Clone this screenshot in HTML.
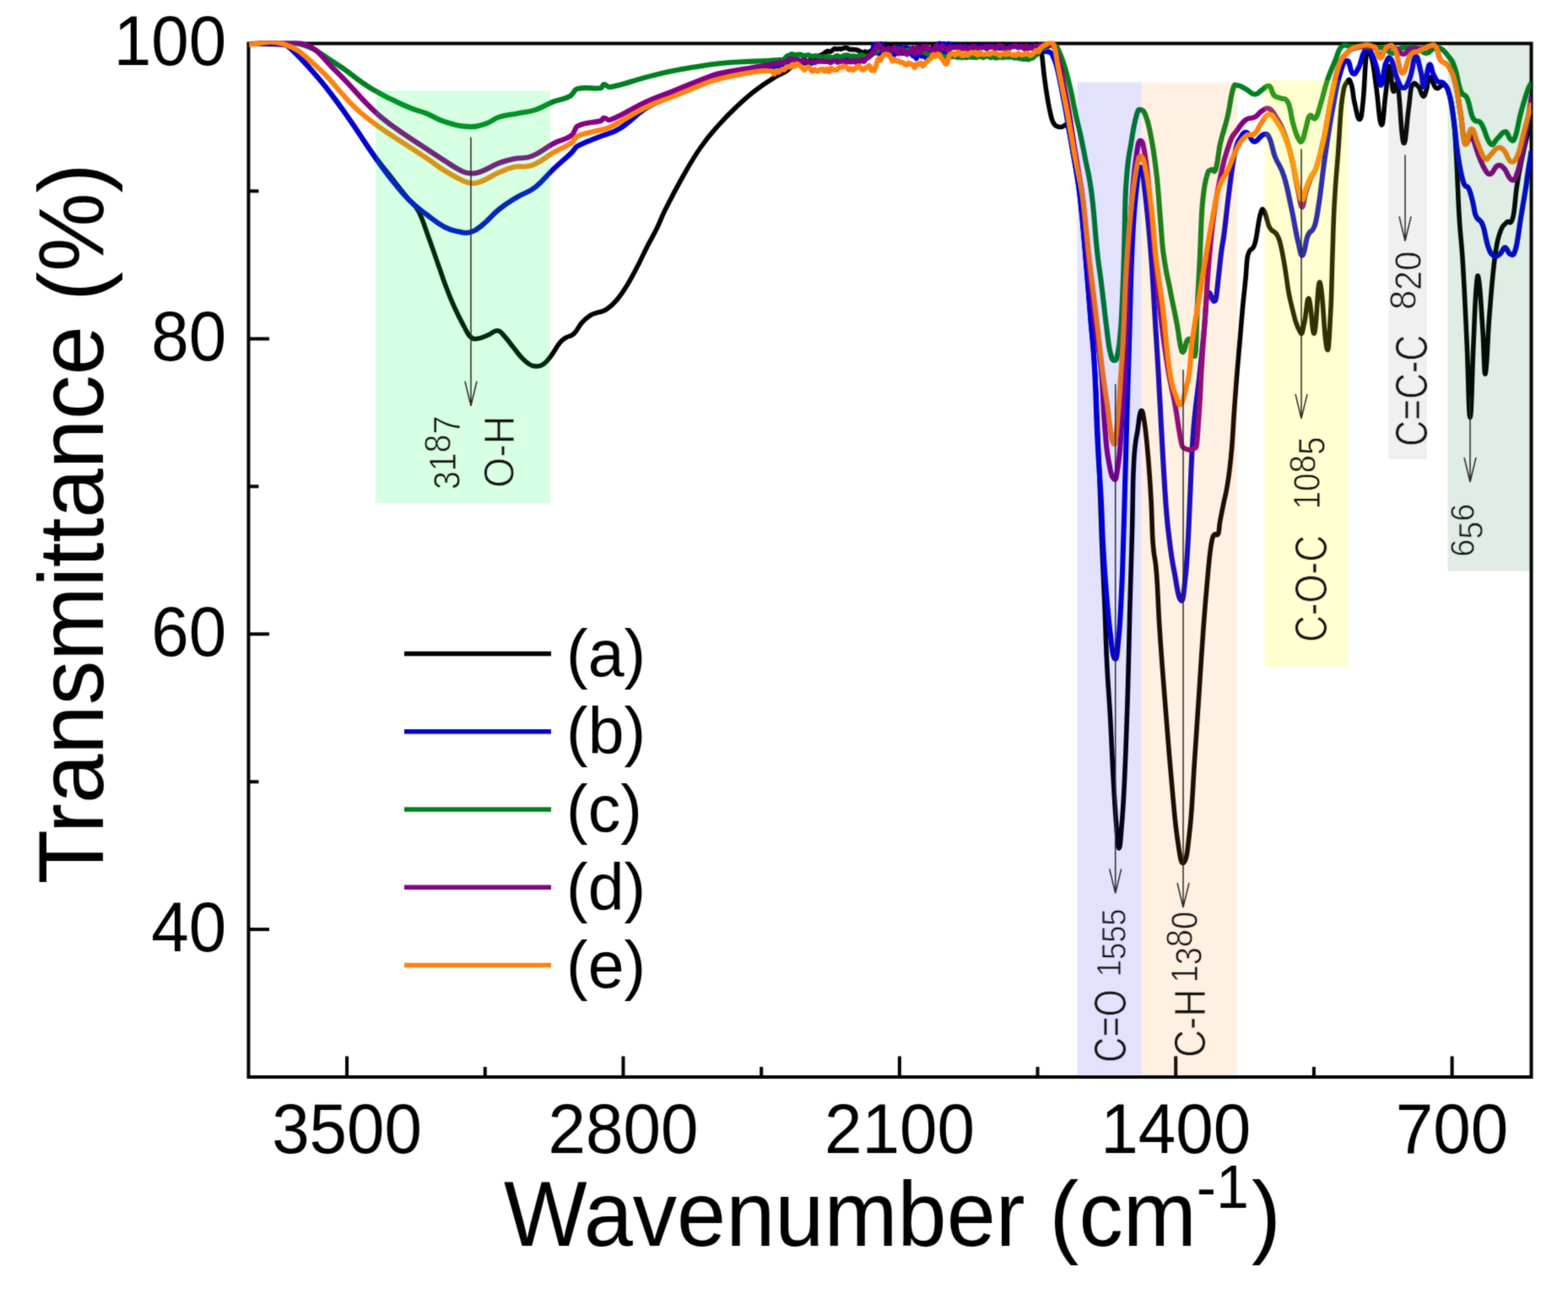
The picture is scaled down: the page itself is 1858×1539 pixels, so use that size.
<!DOCTYPE html>
<html lang="en"><head><meta charset="utf-8"><title>FTIR spectra</title>
<style>html,body{margin:0;padding:0;background:#fff}body{width:1858px;height:1539px;overflow:hidden}svg{display:block}</style>
</head><body>
<svg width="1858" height="1539" viewBox="0 0 1858 1539" font-family="'Liberation Sans', sans-serif">
<defs><filter id="soft" x="0" y="0" width="1858" height="1539" filterUnits="userSpaceOnUse" color-interpolation-filters="sRGB"><feConvolveMatrix order="3" kernelMatrix="1 4 1 4 16 4 1 4 1"/></filter><clipPath id="clip"><rect x="292.5" y="48.5" width="1522" height="1227.5"/></clipPath></defs>
<g filter="url(#soft)">
<rect width="1858" height="1539" fill="#ffffff"/>
<g stroke="#000" stroke-width="4" fill="none" stroke-linecap="butt">
<rect x="294.5" y="51.5" width="1520" height="1224.5"/>
<line x1="411.1" y1="1276" x2="411.1" y2="1251.4"/>
<line x1="738.5" y1="1276" x2="738.5" y2="1251.4"/>
<line x1="1065.9" y1="1276" x2="1065.9" y2="1251.4"/>
<line x1="1393.2" y1="1276" x2="1393.2" y2="1251.4"/>
<line x1="1720.6" y1="1276" x2="1720.6" y2="1251.4"/>
<line x1="574.8" y1="1276" x2="574.8" y2="1264"/>
<line x1="902.2" y1="1276" x2="902.2" y2="1264"/>
<line x1="1229.5" y1="1276" x2="1229.5" y2="1264"/>
<line x1="1556.9" y1="1276" x2="1556.9" y2="1264"/>
<line x1="294.5" y1="401.4" x2="319" y2="401.4"/>
<line x1="294.5" y1="751.2" x2="319" y2="751.2"/>
<line x1="294.5" y1="1101.1" x2="319" y2="1101.1"/>
<line x1="294.5" y1="226.4" x2="306.5" y2="226.4"/>
<line x1="294.5" y1="576.3" x2="306.5" y2="576.3"/>
<line x1="294.5" y1="926.2" x2="306.5" y2="926.2"/>
</g>
<g clip-path="url(#clip)" fill="none" stroke-width="6.1" stroke-linejoin="round" stroke-linecap="butt">
<path d="M295.0,52.0 C308.3,52.0 318.3,50.3 335.0,52.0 C339.5,52.5 340.5,52.7 345.0,57.0 C358.7,70.0 362.1,74.8 376.0,91.0 C385.9,102.5 388.1,105.3 398.0,118.5 C407.4,131.1 409.6,134.8 419.0,148.5 C428.9,162.9 431.1,167.3 441.0,181.0 C450.4,194.1 452.6,195.9 462.0,208.0 C471.9,220.7 474.1,223.7 484.0,236.0 C489.3,242.6 490.5,240.0 495.8,250.0 C501.2,260.2 502.4,266.4 507.8,281.0 C513.2,295.6 514.4,299.7 519.8,315.0 C523.8,326.2 524.6,329.6 528.6,340.0 C532.8,351.2 533.8,353.7 538.0,363.0 C543.4,374.9 544.6,377.0 550.0,387.0 C553.3,393.2 554.1,396.3 557.4,399.0 C561.7,402.6 562.7,401.5 567.0,401.0 C572.4,400.4 573.6,398.8 579.0,396.6 C583.9,394.6 585.0,391.2 589.9,391.8 C593.7,392.3 594.5,395.0 598.3,399.0 C602.6,403.6 603.6,405.6 607.9,411.0 C612.2,416.4 613.2,418.4 617.5,423.0 C621.8,427.6 622.7,428.7 627.0,431.5 C630.3,433.6 631.0,433.9 634.3,433.9 C638.6,433.9 639.6,434.5 643.9,431.5 C648.3,428.5 649.2,426.4 653.6,420.7 C657.9,415.1 658.9,411.6 663.2,406.3 C666.4,402.3 667.2,402.3 670.4,400.2 C674.7,397.4 675.7,399.4 680.0,395.4 C684.3,391.3 685.3,387.1 689.6,382.2 C693.9,377.3 694.9,376.5 699.2,373.8 C703.5,371.1 704.5,371.8 708.8,370.2 C713.2,368.6 714.1,369.5 718.5,366.6 C723.9,363.0 725.1,362.0 730.5,355.8 C735.9,349.6 737.1,347.6 742.5,338.9 C747.9,330.2 749.1,327.6 754.5,317.3 C759.9,307.0 761.1,303.6 766.5,293.0 C771.9,282.3 773.2,281.1 778.6,270.0 C782.8,261.3 783.8,257.4 788.0,249.0 C797.5,230.0 799.7,225.8 809.2,209.0 C818.9,192.0 821.0,187.8 830.7,174.0 C840.4,160.2 842.5,158.4 852.2,147.5 C861.9,136.6 864.1,134.6 873.8,125.5 C883.5,116.4 885.6,114.4 895.3,107.0 C905.0,99.6 907.1,98.5 916.8,92.4 C923.6,88.1 925.2,88.2 932.0,84.0 C935.6,81.8 936.4,79.5 940.0,78.0 C946.8,75.1 949.1,75.5 955.0,74.2 C956.2,73.9 956.4,74.8 957.6,74.1 C958.8,73.4 959.0,72.1 960.2,71.0 C961.4,69.9 961.6,70.0 962.8,69.3 C964.0,68.6 964.2,68.1 965.4,67.7 C966.6,67.3 966.8,68.0 968.0,67.6 C969.2,67.2 969.4,66.6 970.6,66.0 C971.8,65.4 972.0,65.6 973.2,65.1 C974.4,64.6 974.6,64.7 975.8,63.9 C977.0,63.1 977.2,62.4 978.4,61.7 C979.6,61.0 979.8,60.7 981.0,60.6 C982.2,60.5 982.4,61.6 983.6,61.4 C984.8,61.2 985.0,60.6 986.2,59.7 C987.4,58.8 987.6,57.9 988.8,57.6 C990.0,57.3 990.2,58.3 991.4,58.3 C992.6,58.3 992.8,57.7 994.0,57.7 C995.2,57.7 995.4,58.2 996.6,58.1 C997.8,58.0 998.0,57.7 999.2,57.4 C1000.4,57.1 1000.6,56.6 1001.8,56.6 C1003.0,56.6 1003.2,56.8 1004.4,57.2 C1005.6,57.6 1005.8,58.2 1007.0,58.5 C1008.2,58.8 1008.4,58.6 1009.6,58.6 C1010.8,58.6 1011.0,58.6 1012.2,58.7 C1013.4,58.8 1013.6,58.7 1014.8,59.0 C1016.0,59.3 1016.2,59.6 1017.4,60.1 C1018.6,60.6 1018.8,60.7 1020.0,61.3 C1021.2,61.9 1021.4,62.9 1022.6,62.8 C1023.8,62.7 1024.0,61.0 1025.2,61.0 C1026.4,61.0 1026.6,62.7 1027.8,62.8 C1029.0,62.9 1029.2,62.0 1030.4,61.3 C1031.6,60.6 1031.8,60.3 1033.0,59.8 C1034.2,59.3 1034.6,59.7 1035.6,59.1 C1035.8,59.0 1035.8,57.8 1036.0,57.9 C1036.8,58.4 1037.2,59.9 1038.1,60.7 C1039.0,61.5 1039.3,62.7 1040.2,61.5 C1041.1,60.3 1041.4,56.1 1042.3,55.5 C1043.2,54.9 1043.5,59.1 1044.4,58.9 C1045.3,58.7 1045.6,56.1 1046.5,54.8 C1047.4,53.5 1047.7,53.5 1048.6,53.1 C1049.5,52.7 1049.8,51.3 1050.7,53.0 C1051.6,54.7 1051.9,60.4 1052.8,60.5 C1053.7,60.6 1054.0,54.1 1054.9,53.4 C1055.8,52.7 1056.1,55.7 1057.0,57.5 C1057.9,59.3 1058.2,61.9 1059.1,61.6 C1060.0,61.3 1060.3,56.6 1061.2,56.1 C1062.1,55.6 1062.4,58.1 1063.3,59.3 C1064.2,60.5 1064.5,62.2 1065.4,61.6 C1066.3,61.0 1066.6,57.6 1067.5,56.6 C1068.4,55.6 1068.7,56.0 1069.6,57.1 C1070.5,58.2 1070.8,60.9 1071.7,61.5 C1072.6,62.1 1072.9,60.7 1073.8,59.8 C1074.7,58.9 1075.0,56.9 1075.9,57.3 C1076.8,57.7 1077.1,60.9 1078.0,61.5 C1078.9,62.1 1079.2,59.9 1080.1,59.9 C1081.0,59.9 1081.3,61.9 1082.2,61.6 C1083.1,61.3 1083.4,58.4 1084.3,58.5 C1085.2,58.6 1085.5,63.0 1086.4,62.1 C1087.3,61.2 1087.6,55.4 1088.5,54.4 C1089.4,53.4 1089.7,58.0 1090.6,57.8 C1091.5,57.6 1091.8,54.1 1092.7,53.5 C1093.6,52.9 1093.9,54.7 1094.8,55.2 C1095.7,55.7 1096.0,54.5 1096.9,55.9 C1097.8,57.3 1098.1,60.7 1099.0,61.4 C1099.9,62.1 1100.2,59.4 1101.1,58.9 C1102.0,58.4 1102.3,59.7 1103.2,59.0 C1104.1,58.3 1104.4,55.3 1105.3,55.8 C1106.2,56.3 1106.5,61.2 1107.4,61.4 C1108.3,61.6 1108.6,58.2 1109.5,56.9 C1110.4,55.6 1110.7,56.7 1111.6,55.7 C1112.5,54.7 1112.8,52.4 1113.7,52.4 C1114.6,52.4 1114.9,54.1 1115.8,55.8 C1116.7,57.5 1117.0,60.2 1117.9,59.9 C1118.8,59.6 1119.1,54.3 1120.0,54.5 C1120.9,54.7 1121.2,59.6 1122.1,60.6 C1123.0,61.6 1123.3,60.2 1124.2,59.0 C1124.6,58.5 1124.6,57.4 1125.0,56.9 C1126.1,55.5 1126.4,55.4 1127.6,54.7 C1128.8,54.0 1129.0,54.1 1130.2,54.0 C1131.4,53.9 1131.6,54.5 1132.8,54.4 C1134.0,54.3 1134.2,53.7 1135.4,53.7 C1136.6,53.7 1136.8,53.7 1138.0,54.2 C1139.2,54.7 1139.4,55.8 1140.6,56.1 C1141.8,56.4 1142.0,56.4 1143.2,55.7 C1144.4,55.0 1144.6,53.4 1145.8,53.2 C1147.0,53.0 1147.2,54.5 1148.4,54.8 C1149.6,55.1 1149.8,54.9 1151.0,54.7 C1152.2,54.5 1152.4,54.0 1153.6,53.9 C1154.8,53.8 1155.0,54.7 1156.2,54.4 C1157.4,54.1 1157.6,52.4 1158.8,52.6 C1160.0,52.8 1160.2,54.5 1161.4,55.1 C1162.6,55.7 1162.8,55.7 1164.0,55.2 C1165.2,54.8 1165.4,53.6 1166.6,53.1 C1167.8,52.6 1168.0,52.7 1169.2,52.8 C1170.4,52.9 1170.6,52.8 1171.8,53.4 C1173.0,54.0 1173.2,55.2 1174.4,55.6 C1175.6,56.0 1175.8,55.7 1177.0,55.3 C1178.2,54.9 1178.4,54.1 1179.6,53.9 C1180.8,53.7 1181.0,54.8 1182.2,54.6 C1183.4,54.4 1183.6,53.5 1184.8,53.0 C1186.0,52.5 1186.2,52.5 1187.4,52.5 C1188.6,52.5 1188.8,52.3 1190.0,52.9 C1191.2,53.5 1191.4,54.6 1192.6,55.2 C1193.8,55.8 1194.0,55.4 1195.2,55.4 C1196.4,55.4 1196.6,55.6 1197.8,55.3 C1199.0,55.0 1199.2,54.2 1200.4,54.1 C1201.6,54.0 1201.8,55.0 1203.0,54.9 C1204.2,54.8 1204.4,54.0 1205.6,53.6 C1206.8,53.2 1207.0,53.1 1208.2,53.1 C1209.4,53.1 1209.6,52.8 1210.8,53.4 C1212.0,54.0 1212.2,55.6 1213.4,55.6 C1214.6,55.6 1214.8,53.8 1216.0,53.3 C1217.2,52.8 1217.4,53.1 1218.6,53.6 C1219.8,54.1 1220.0,55.5 1221.2,55.4 C1222.4,55.3 1222.6,53.5 1223.8,53.2 C1225.0,52.9 1225.2,54.4 1226.4,54.2 C1227.6,54.0 1227.8,51.5 1229.0,52.5 C1230.2,53.5 1230.4,56.1 1231.6,58.5 C1232.8,61.0 1233.1,56.6 1234.3,63.4 C1235.8,71.7 1236.1,80.7 1237.6,92.0 C1239.4,105.3 1239.7,107.8 1241.5,118.0 C1243.3,128.5 1243.7,130.8 1245.5,138.0 C1246.8,143.4 1247.2,143.6 1248.5,146.0 C1250.1,148.8 1250.4,148.8 1252.0,149.5 C1254.7,150.8 1255.3,150.7 1258.0,150.5 C1260.9,150.3 1261.6,146.2 1264.5,148.5 C1265.8,149.6 1266.2,151.6 1267.5,158.0 C1269.4,167.1 1269.9,171.8 1271.8,183.0 C1273.8,194.7 1274.3,195.7 1276.3,209.0 C1278.2,221.4 1278.6,222.3 1280.5,240.0 C1283.0,263.2 1283.5,271.1 1286.0,300.0 C1288.9,334.1 1289.6,344.4 1292.5,380.0 C1294.8,407.4 1295.2,403.5 1297.5,440.0 C1299.1,465.6 1299.4,480.2 1301.0,518.0 C1302.3,550.4 1302.7,559.4 1304.0,596.0 C1304.7,614.3 1304.8,623.5 1305.5,640.0 C1307.1,678.4 1307.4,680.6 1309.0,718.0 C1310.2,745.8 1310.4,761.6 1311.6,785.0 C1313.4,820.1 1313.7,816.3 1315.5,848.0 C1317.3,879.7 1317.6,895.1 1319.4,926.0 C1321.0,954.5 1321.4,960.3 1323.0,980.0 C1324.3,995.9 1324.6,1005.0 1325.9,1005.0 C1327.3,1005.0 1327.6,997.0 1329.0,980.0 C1330.5,961.4 1330.9,959.1 1332.4,926.0 C1334.2,888.0 1334.5,878.2 1336.3,822.0 C1337.5,784.6 1337.7,761.2 1338.9,718.0 C1340.1,674.8 1340.4,670.7 1341.5,630.0 C1341.8,618.4 1341.9,611.8 1342.2,596.0 C1342.5,582.5 1342.5,572.3 1342.8,565.0 C1343.6,544.4 1343.7,542.1 1344.5,534.0 C1346.1,517.3 1346.4,520.1 1348.0,510.0 C1349.7,499.0 1350.1,488.5 1351.8,487.0 C1353.9,485.1 1354.3,488.6 1356.4,502.4 C1358.5,516.5 1359.0,523.8 1361.1,549.2 C1362.5,565.9 1362.8,569.9 1364.2,596.0 C1365.0,611.2 1365.2,630.2 1366.0,641.0 C1368.0,668.0 1368.5,653.9 1370.5,680.0 C1372.1,700.3 1372.4,720.6 1374.0,744.0 C1377.5,796.2 1378.3,803.3 1381.8,848.0 C1384.7,885.2 1385.4,893.8 1388.3,926.0 C1391.2,958.2 1391.9,971.4 1394.8,991.0 C1398.3,1014.6 1399.1,1024.9 1402.6,1022.0 C1406.1,1019.1 1406.9,1010.9 1410.4,978.0 C1412.7,956.0 1413.3,935.1 1415.6,900.0 C1417.9,864.9 1418.5,857.1 1420.8,822.0 C1423.1,786.9 1423.7,775.6 1426.0,744.0 C1428.4,711.7 1428.9,706.5 1431.3,680.0 C1432.7,664.5 1433.0,660.6 1434.4,650.6 C1435.8,640.3 1436.2,637.9 1437.6,635.0 C1440.4,629.4 1441.2,637.1 1443.8,631.9 C1444.5,630.5 1444.7,623.6 1445.4,619.4 C1447.5,607.4 1447.9,606.4 1450.0,596.0 C1452.1,585.4 1452.6,586.6 1454.7,572.6 C1456.8,558.6 1457.3,556.9 1459.4,533.6 C1460.8,518.3 1461.1,506.6 1462.5,486.8 C1464.1,464.5 1464.4,459.5 1466.0,440.0 C1467.6,420.5 1467.9,418.3 1469.5,400.0 C1470.8,384.3 1471.2,379.1 1472.5,364.6 C1474.1,347.6 1474.4,346.3 1476.0,330.0 C1477.1,318.8 1477.3,307.5 1478.4,303.4 C1482.1,289.5 1483.1,301.1 1487.0,288.4 C1489.9,278.9 1490.5,264.4 1493.4,254.0 C1495.3,247.0 1495.8,246.9 1497.7,249.6 C1500.6,253.7 1501.3,263.5 1504.2,269.0 C1509.1,278.1 1510.1,270.3 1515.0,281.9 C1517.9,288.7 1518.5,294.6 1521.4,309.9 C1524.6,326.9 1525.3,340.3 1528.5,353.8 C1534.3,378.4 1535.7,385.4 1541.4,394.7 C1543.3,397.8 1543.8,390.0 1545.7,381.8 C1548.1,371.6 1548.6,351.2 1551.0,353.8 C1553.9,357.0 1554.6,399.1 1557.5,394.7 C1560.4,390.3 1561.1,330.7 1564.0,334.4 C1567.9,339.3 1568.7,405.0 1572.6,414.0 C1574.6,418.6 1575.0,399.9 1577.0,364.6 C1577.9,348.6 1578.1,326.9 1579.0,300.0 C1579.9,273.1 1580.1,261.0 1581.0,245.0 C1583.2,204.9 1583.8,206.6 1586.0,175.3 C1587.8,150.3 1588.2,133.2 1590.0,120.0 C1593.1,97.6 1593.7,101.2 1596.8,96.2 C1599.0,92.7 1599.4,94.5 1601.6,101.0 C1603.0,105.4 1603.4,114.4 1604.8,120.4 C1607.7,132.6 1608.4,141.8 1611.3,141.4 C1613.1,141.1 1613.5,136.4 1615.3,118.8 C1617.1,100.8 1617.6,70.8 1619.4,62.3 C1622.3,49.0 1622.9,60.1 1625.8,70.4 C1628.0,78.3 1628.5,87.6 1630.7,102.7 C1633.6,122.5 1634.2,145.9 1637.1,147.9 C1639.3,149.5 1639.8,127.9 1642.0,110.7 C1643.8,96.6 1644.2,79.1 1646.0,78.4 C1648.2,77.6 1648.6,102.5 1650.8,107.5 C1653.4,113.4 1653.9,89.8 1656.5,102.7 C1659.4,117.4 1660.1,163.4 1663.0,168.9 C1665.9,174.3 1666.5,146.8 1669.4,126.9 C1670.8,117.0 1671.2,105.8 1672.6,102.7 C1676.2,94.9 1677.1,99.7 1680.7,102.7 C1683.3,104.8 1683.8,113.2 1686.4,114.0 C1688.2,114.6 1688.6,111.6 1690.4,105.9 C1691.8,101.4 1692.2,91.6 1693.6,91.4 C1697.2,90.9 1698.1,102.3 1701.7,104.3 C1706.1,106.7 1707.0,98.4 1711.4,101.0 C1714.3,102.8 1715.0,103.1 1717.9,114.0 C1720.1,122.0 1720.5,122.3 1722.7,143.0 C1724.2,157.2 1724.5,165.1 1726.0,191.5 C1727.3,215.5 1727.7,233.0 1729.0,255.0 C1731.0,288.0 1731.5,280.1 1733.5,313.6 C1735.6,348.6 1736.1,362.2 1738.2,407.2 C1739.9,443.6 1740.3,494.6 1742.0,494.6 C1743.8,494.6 1744.2,445.7 1746.0,407.2 C1747.3,378.3 1747.7,361.4 1749.0,344.8 C1750.4,327.1 1750.8,322.4 1752.2,330.8 C1754.4,343.4 1754.8,360.5 1757.0,391.6 C1758.3,411.0 1758.7,445.7 1760.0,443.0 C1762.1,438.7 1762.6,402.1 1764.7,376.0 C1767.5,341.1 1768.2,330.0 1771.0,307.4 C1773.8,285.1 1774.4,284.9 1777.2,276.2 C1780.7,265.2 1781.5,267.9 1785.0,263.7 C1788.5,259.5 1789.3,269.7 1792.8,257.4 C1794.9,250.0 1795.4,234.0 1797.5,220.0 C1800.0,203.6 1800.5,202.0 1803.0,190.0 C1806.2,174.7 1806.8,171.9 1810.0,159.2 C1812.1,150.7 1813.1,148.4 1814.7,143.0" stroke="#000000" stroke-width="5.6"/>
<path d="M295.0,52.0 C308.3,52.3 318.7,51.3 335.0,53.0 C339.0,53.4 339.8,53.3 343.8,57.0 C357.5,69.7 361.5,74.4 376.0,91.0 C385.7,102.1 387.9,105.5 397.6,118.5 C407.2,131.4 409.4,134.5 419.0,148.5 C428.8,162.7 430.9,167.0 440.7,181.0 C450.4,194.9 452.5,198.2 462.2,210.5 C471.9,222.9 474.1,226.2 483.8,236.0 C493.5,245.8 495.6,246.6 505.3,254.0 C515.0,261.4 517.1,263.9 526.8,269.0 C534.5,273.1 536.3,272.8 544.0,274.5 C549.4,275.7 550.6,276.8 556.0,275.4 C562.3,273.8 563.6,272.8 569.9,268.0 C579.6,260.5 581.7,255.8 591.4,248.0 C601.1,240.2 603.3,239.4 613.0,233.4 C622.7,227.5 624.8,229.1 634.5,221.6 C644.2,214.1 646.3,209.3 656.0,200.1 C665.7,190.9 668.1,189.7 677.5,180.7 C680.6,177.8 681.2,174.9 684.3,173.2 C695.9,166.7 699.7,166.5 712.3,161.3 C722.0,157.3 724.1,158.7 733.8,152.7 C748.3,143.7 751.5,137.0 766.0,128.0 C780.4,119.1 783.6,119.3 798.0,113.0 C817.4,104.5 823.0,102.3 841.0,95.0 C846.0,93.0 847.0,92.2 852.0,91.0 C870.0,86.7 875.6,85.6 895.0,82.0 C909.4,79.3 913.3,80.3 927.0,77.0 C931.0,76.0 932.0,73.4 936.0,72.0 C937.8,71.4 938.2,72.1 940.0,72.5 C941.2,72.7 941.4,73.1 942.6,73.3 C943.8,73.5 944.0,73.6 945.2,73.3 C946.4,73.0 946.6,71.8 947.8,71.9 C949.0,72.0 949.2,73.4 950.4,73.7 C951.6,74.0 951.8,73.4 953.0,73.2 C954.2,73.0 954.4,73.0 955.6,73.0 C956.8,73.0 957.0,72.6 958.2,73.0 C959.4,73.4 959.6,74.5 960.8,74.8 C962.0,75.1 962.2,74.5 963.4,74.3 C964.6,74.1 964.8,74.2 966.0,73.8 C967.2,73.4 967.4,72.8 968.6,72.4 C969.8,72.0 970.0,72.1 971.2,72.1 C972.4,72.1 972.6,72.3 973.8,72.4 C975.0,72.5 975.2,72.9 976.4,72.7 C977.6,72.5 977.8,71.6 979.0,71.6 C980.2,71.6 980.4,72.8 981.6,72.8 C982.8,72.8 983.0,71.6 984.2,71.5 C985.4,71.4 985.6,72.6 986.8,72.4 C988.0,72.2 988.2,71.0 989.4,70.8 C990.6,70.6 990.8,71.5 992.0,71.6 C993.2,71.7 993.4,71.5 994.6,71.1 C995.8,70.7 996.0,69.9 997.2,69.7 C998.4,69.5 998.6,70.2 999.8,70.2 C1001.0,70.2 1001.2,70.1 1002.4,69.9 C1003.6,69.7 1003.8,69.4 1005.0,69.4 C1006.2,69.4 1006.4,70.1 1007.6,70.0 C1008.8,69.9 1009.0,69.1 1010.2,69.1 C1011.4,69.1 1011.6,69.9 1012.8,69.9 C1014.0,69.9 1014.2,69.5 1015.4,69.3 C1016.6,69.1 1016.8,69.0 1018.0,69.0 C1019.2,69.0 1019.4,69.6 1020.6,69.5 C1021.8,69.4 1022.0,69.1 1023.2,68.7 C1024.4,68.3 1024.6,67.7 1025.8,67.6 C1027.0,67.5 1027.2,68.7 1028.4,68.4 C1029.6,68.1 1029.8,67.5 1031.0,66.2 C1032.2,64.9 1032.4,65.9 1033.6,62.7 C1034.7,59.8 1034.9,52.7 1036.0,52.7 C1036.9,52.7 1037.1,62.6 1038.0,62.6 C1038.9,62.6 1039.1,52.4 1040.0,52.6 C1040.9,52.8 1041.1,63.7 1042.0,63.6 C1042.9,63.5 1043.1,51.9 1044.0,52.0 C1044.9,52.1 1045.1,61.8 1046.0,64.1 C1046.9,66.4 1047.1,63.2 1048.0,62.1 C1048.9,61.0 1049.1,60.3 1050.0,59.4 C1050.9,58.5 1051.1,58.8 1052.0,58.2 C1052.9,57.6 1053.1,56.6 1054.0,56.9 C1054.9,57.2 1055.1,59.2 1056.0,59.7 C1056.9,60.2 1057.1,57.8 1058.0,58.9 C1058.9,60.0 1059.1,64.3 1060.0,64.6 C1060.9,64.9 1061.1,61.5 1062.0,60.1 C1062.9,58.8 1063.1,59.7 1064.0,58.6 C1064.9,57.5 1065.1,54.4 1066.0,55.1 C1066.9,55.8 1067.1,60.0 1068.0,61.7 C1068.9,63.4 1069.1,63.6 1070.0,62.6 C1070.9,61.6 1071.1,58.5 1072.0,57.1 C1072.9,55.8 1073.1,56.6 1074.0,56.6 C1074.9,56.6 1075.1,56.9 1076.0,57.2 C1076.9,57.5 1077.1,56.7 1078.0,57.9 C1078.9,59.1 1079.1,60.6 1080.0,62.5 C1080.9,64.4 1081.1,65.9 1082.0,66.3 C1082.9,66.7 1083.1,63.8 1084.0,64.4 C1084.9,65.0 1085.1,70.0 1086.0,69.1 C1086.9,68.2 1087.1,62.2 1088.0,60.2 C1088.9,58.2 1089.1,58.9 1090.0,60.3 C1090.9,61.7 1091.1,65.2 1092.0,66.3 C1092.9,67.4 1093.1,65.3 1094.0,65.4 C1094.9,65.5 1095.1,66.1 1096.0,66.7 C1096.9,67.3 1097.1,69.3 1098.0,68.0 C1098.9,66.7 1099.1,62.5 1100.0,60.7 C1100.9,58.9 1101.1,59.6 1102.0,59.8 C1102.9,60.0 1103.1,61.8 1104.0,61.5 C1104.9,61.2 1105.1,59.1 1106.0,58.5 C1106.9,57.9 1107.1,57.2 1108.0,58.8 C1108.9,60.4 1109.1,66.5 1110.0,65.7 C1110.9,64.9 1111.1,58.3 1112.0,55.2 C1112.9,52.1 1113.1,50.2 1114.0,52.0 C1114.9,53.8 1115.1,63.3 1116.0,63.3 C1116.9,63.3 1117.1,53.1 1118.0,52.0 C1118.9,50.9 1119.1,56.6 1120.0,58.6 C1120.9,60.6 1121.1,62.3 1122.0,60.8 C1122.9,59.3 1123.1,53.0 1124.0,52.0 C1124.5,51.5 1124.5,56.8 1125.0,57.3 C1126.2,58.5 1126.4,56.2 1127.6,55.6 C1128.8,55.0 1129.0,54.9 1130.2,54.7 C1131.4,54.5 1131.6,54.6 1132.8,54.5 C1134.0,54.4 1134.2,54.4 1135.4,54.4 C1136.6,54.4 1136.8,54.4 1138.0,54.7 C1139.2,55.0 1139.4,55.5 1140.6,55.7 C1141.8,55.9 1142.0,55.9 1143.2,55.7 C1144.4,55.5 1144.6,54.7 1145.8,54.7 C1147.0,54.7 1147.2,55.3 1148.4,55.8 C1149.6,56.3 1149.8,56.9 1151.0,57.1 C1152.2,57.3 1152.4,57.3 1153.6,56.8 C1154.8,56.3 1155.0,55.0 1156.2,54.7 C1157.4,54.4 1157.6,55.1 1158.8,55.6 C1160.0,56.1 1160.2,57.2 1161.4,57.0 C1162.6,56.8 1162.8,54.7 1164.0,54.5 C1165.2,54.3 1165.4,55.4 1166.6,56.0 C1167.8,56.6 1168.0,57.5 1169.2,57.3 C1170.4,57.1 1170.6,55.6 1171.8,54.9 C1173.0,54.2 1173.2,54.4 1174.4,54.4 C1175.6,54.4 1175.8,54.6 1177.0,54.9 C1178.2,55.2 1178.4,55.8 1179.6,55.9 C1180.8,56.0 1181.0,54.9 1182.2,55.2 C1183.4,55.5 1183.6,57.3 1184.8,57.2 C1186.0,57.1 1186.2,55.1 1187.4,54.9 C1188.6,54.7 1188.8,56.0 1190.0,56.4 C1191.2,56.8 1191.4,56.8 1192.6,56.7 C1193.8,56.6 1194.0,56.3 1195.2,55.8 C1196.4,55.3 1196.6,54.8 1197.8,54.6 C1199.0,54.4 1199.2,54.7 1200.4,54.7 C1201.6,54.7 1201.8,54.5 1203.0,54.5 C1204.2,54.5 1204.4,54.3 1205.6,54.5 C1206.8,54.7 1207.0,55.2 1208.2,55.3 C1209.4,55.4 1209.6,54.5 1210.8,55.0 C1212.0,55.5 1212.2,57.0 1213.4,57.5 C1214.6,57.9 1214.8,57.4 1216.0,57.0 C1217.2,56.6 1217.4,55.8 1218.6,55.7 C1219.8,55.6 1220.0,56.7 1221.2,56.5 C1222.4,56.3 1222.6,55.0 1223.8,54.9 C1225.0,54.8 1225.2,55.8 1226.4,56.2 C1227.6,56.6 1227.8,56.8 1229.0,56.7 C1230.2,56.6 1230.4,55.1 1231.6,55.7 C1232.8,56.3 1233.0,58.6 1234.2,59.3 C1236.8,60.9 1237.4,60.1 1240.0,61.0 C1242.5,61.8 1243.0,60.3 1245.5,63.0 C1247.5,65.2 1248.0,66.9 1250.0,72.0 C1251.3,75.4 1251.7,76.3 1253.0,82.0 C1255.2,91.1 1255.6,94.2 1257.8,105.0 C1260.0,116.3 1260.5,118.7 1262.8,131.0 C1264.8,142.1 1265.3,145.3 1267.3,157.0 C1269.3,168.7 1269.8,171.3 1271.8,183.0 C1273.8,194.7 1274.3,195.7 1276.3,209.0 C1278.2,221.4 1278.6,222.3 1280.5,240.0 C1283.0,263.2 1283.5,271.1 1286.0,300.0 C1288.9,334.1 1289.6,343.4 1292.5,380.0 C1294.6,406.4 1295.1,402.6 1297.2,440.0 C1298.6,464.7 1298.9,490.1 1300.3,518.0 C1302.4,560.3 1302.9,556.3 1305.0,596.0 C1305.8,611.2 1306.0,624.8 1306.8,640.0 C1308.2,667.1 1308.6,671.6 1310.0,690.0 C1312.2,718.8 1312.8,727.0 1315.0,745.0 C1317.8,767.7 1318.5,779.1 1321.3,780.6 C1323.4,781.7 1323.9,774.1 1326.0,750.7 C1327.6,733.3 1327.9,723.5 1329.5,690.0 C1330.3,673.7 1330.4,664.0 1331.2,640.0 C1331.8,621.7 1331.9,616.8 1332.5,596.0 C1333.5,560.7 1333.7,549.2 1334.7,515.3 C1336.2,464.4 1336.5,456.8 1338.0,407.6 C1339.4,359.9 1339.8,332.0 1341.2,300.0 C1343.4,252.0 1343.8,251.0 1346.0,230.0 C1348.6,205.1 1349.1,198.0 1351.7,198.0 C1354.1,198.0 1354.6,209.9 1357.0,230.0 C1360.1,255.8 1360.7,260.9 1363.8,300.0 C1366.2,331.1 1366.8,346.9 1369.2,386.0 C1370.7,409.9 1371.0,413.9 1372.5,440.0 C1374.4,473.3 1374.8,484.9 1376.7,518.0 C1378.8,555.1 1379.3,567.3 1381.4,596.0 C1383.3,622.2 1383.8,624.1 1385.7,640.0 C1388.1,659.6 1388.6,663.1 1391.0,675.0 C1395.0,695.3 1396.0,710.1 1400.0,711.5 C1402.2,712.3 1402.8,700.6 1405.0,680.0 C1406.3,668.5 1406.5,662.0 1407.8,640.0 C1408.7,624.2 1408.9,616.0 1409.8,596.0 C1411.1,568.1 1411.3,555.1 1412.6,533.6 C1414.1,507.4 1414.5,505.6 1416.0,490.0 C1418.2,468.0 1418.6,469.9 1420.8,450.0 C1423.7,423.1 1424.4,416.3 1427.3,386.0 C1428.7,371.1 1429.1,352.8 1430.5,349.5 C1434.8,339.5 1435.9,361.7 1440.2,356.0 C1441.6,354.1 1442.0,344.2 1443.4,332.3 C1445.0,319.0 1445.4,312.7 1447.0,300.0 C1448.5,288.0 1448.9,289.5 1450.4,277.6 C1453.3,255.2 1453.9,245.4 1456.8,223.8 C1459.7,201.8 1460.4,194.4 1463.3,180.7 C1466.2,167.2 1466.8,168.4 1469.7,163.5 C1473.1,157.7 1473.9,156.1 1477.3,157.0 C1481.2,158.0 1482.0,167.4 1485.9,167.8 C1491.2,168.4 1492.4,160.4 1497.7,159.2 C1500.6,158.5 1501.3,157.6 1504.2,163.5 C1507.1,169.3 1507.7,177.4 1510.6,185.0 C1515.5,197.8 1516.5,193.6 1521.4,208.7 C1525.3,220.7 1526.1,227.4 1530.0,245.3 C1533.9,263.2 1534.7,272.2 1538.6,288.4 C1540.8,297.8 1541.3,304.2 1543.6,302.4 C1546.2,300.3 1546.8,286.3 1549.4,279.8 C1553.3,270.2 1554.1,278.1 1558.0,266.8 C1560.2,260.2 1560.8,255.2 1563.0,240.0 C1566.2,218.8 1566.8,207.6 1570.0,186.0 C1574.3,156.7 1575.2,150.2 1579.5,126.9 C1583.5,104.8 1584.5,97.9 1588.5,85.0 C1592.2,73.1 1593.1,71.5 1596.8,72.0 C1599.5,72.4 1600.1,85.4 1602.8,87.0 C1606.0,89.0 1606.8,86.0 1610.0,80.0 C1612.7,74.9 1613.4,66.9 1616.1,62.3 C1619.0,57.4 1619.7,55.8 1622.6,59.0 C1626.2,63.0 1627.1,67.2 1630.7,78.4 C1633.2,86.1 1633.8,101.7 1636.3,101.0 C1638.9,100.3 1639.4,81.7 1642.0,75.2 C1644.9,67.9 1645.5,66.8 1648.4,70.4 C1651.3,74.1 1652.0,84.6 1654.9,91.4 C1658.5,99.9 1659.4,104.3 1663.0,104.3 C1666.6,104.3 1667.4,100.6 1671.0,91.4 C1673.9,83.9 1674.6,68.2 1677.5,67.1 C1680.4,66.0 1681.1,75.8 1684.0,86.5 C1685.4,91.8 1685.8,104.2 1687.2,102.7 C1690.1,99.8 1690.7,80.5 1693.6,76.8 C1695.8,74.0 1696.3,83.7 1698.5,88.1 C1700.7,92.4 1701.1,94.3 1703.3,96.2 C1706.9,99.4 1707.8,95.0 1711.4,99.4 C1714.3,103.0 1715.0,102.7 1717.9,114.0 C1720.1,122.3 1720.5,127.4 1722.7,143.0 C1724.9,158.6 1725.3,169.5 1727.5,183.4 C1730.4,202.2 1731.1,206.6 1734.0,215.7 C1736.9,224.8 1737.6,217.5 1740.5,223.8 C1742.7,228.4 1743.1,231.5 1745.3,239.9 C1746.7,245.5 1747.1,251.7 1748.5,255.0 C1752.3,263.8 1753.2,257.2 1757.0,266.8 C1759.8,273.8 1760.4,283.7 1763.2,291.8 C1766.0,299.9 1766.6,300.8 1769.4,302.7 C1772.9,305.0 1773.7,303.4 1777.2,301.1 C1780.0,299.2 1780.7,293.3 1783.5,293.3 C1786.3,293.3 1786.9,300.7 1789.7,301.1 C1792.5,301.5 1793.2,304.8 1796.0,294.9 C1798.8,285.1 1799.4,274.3 1802.2,257.4 C1805.0,240.5 1805.8,236.6 1808.4,220.0 C1809.1,215.4 1809.3,212.3 1810.0,207.6 C1812.1,193.8 1813.1,188.2 1814.7,178.5" stroke="#0000d2"/>
<path d="M295.0,52.0 C314.9,52.0 327.8,45.9 354.6,52.0 C374.0,56.4 378.2,63.2 397.6,75.2 C417.0,87.2 421.3,93.7 440.7,105.3 C460.1,116.9 464.4,118.2 483.8,126.9 C493.5,131.3 495.6,130.5 505.3,134.4 C515.0,138.3 517.1,141.2 526.8,144.1 C540.4,148.2 543.4,149.5 557.0,150.1 C565.7,150.5 567.6,149.2 576.3,146.3 C583.1,144.0 584.6,140.9 591.4,138.7 C601.1,135.5 603.3,136.3 613.0,134.4 C622.7,132.5 624.8,133.2 634.5,130.1 C644.2,126.9 646.3,124.2 656.0,120.4 C664.7,117.0 666.7,118.7 675.4,114.0 C679.3,111.9 680.1,106.3 684.0,105.3 C696.3,102.1 701.8,106.1 712.3,104.3 C713.7,104.1 714.1,100.1 715.5,100.0 C718.9,99.7 719.6,103.8 723.0,103.2 C739.8,100.3 746.6,96.4 766.0,91.4 C780.6,87.6 783.8,86.5 798.4,83.8 C822.6,79.3 828.0,78.0 852.2,75.2 C871.6,73.0 875.9,73.7 895.3,72.6 C909.8,71.8 916.0,72.0 927.6,70.9 C928.7,70.8 928.9,70.4 930.0,69.4 C931.3,68.3 931.5,67.2 932.8,66.3 C934.1,65.4 934.3,65.9 935.6,65.4 C936.9,64.9 937.1,64.0 938.4,64.0 C939.7,64.0 939.9,65.0 941.2,65.2 C942.5,65.4 942.7,65.0 944.0,64.9 C945.3,64.8 945.5,64.6 946.8,64.6 C948.1,64.6 948.3,64.5 949.6,64.9 C950.9,65.3 951.1,66.4 952.4,66.6 C953.7,66.8 953.9,65.9 955.2,65.6 C956.5,65.3 956.7,65.1 958.0,65.3 C959.3,65.5 959.5,66.1 960.8,66.4 C962.1,66.7 962.3,66.8 963.6,66.7 C964.9,66.6 965.1,66.0 966.4,66.0 C967.7,66.0 967.9,66.5 969.2,66.7 C970.5,66.9 970.7,66.8 972.0,67.1 C973.3,67.4 973.5,67.9 974.8,67.9 C976.1,67.9 976.3,67.3 977.6,67.1 C978.9,66.9 979.1,66.9 980.4,67.1 C981.7,67.3 981.9,67.8 983.2,68.0 C984.5,68.2 984.7,68.1 986.0,68.0 C987.3,67.9 987.5,68.0 988.8,67.6 C990.1,67.1 990.3,66.1 991.6,66.0 C992.9,65.9 993.1,66.9 994.4,67.2 C995.7,67.5 995.9,67.5 997.2,67.2 C998.5,66.9 998.7,66.3 1000.0,65.9 C1001.3,65.5 1001.5,65.3 1002.8,65.3 C1004.1,65.3 1004.3,65.5 1005.6,65.9 C1006.9,66.3 1007.1,66.8 1008.4,66.9 C1009.7,67.0 1009.9,66.4 1011.2,66.4 C1012.5,66.4 1012.7,66.8 1014.0,66.9 C1015.3,67.0 1015.5,67.1 1016.8,66.7 C1018.1,66.3 1018.3,65.6 1019.6,65.3 C1020.9,65.0 1021.1,65.0 1022.4,65.4 C1023.7,65.8 1023.9,66.7 1025.2,67.0 C1026.5,67.3 1026.7,67.0 1028.0,66.7 C1029.3,66.4 1029.5,66.4 1030.8,65.6 C1032.1,64.8 1032.3,63.9 1033.6,63.2 C1034.9,62.5 1035.1,63.0 1036.4,62.3 C1037.7,61.6 1037.9,60.9 1039.2,60.2 C1040.5,59.5 1040.7,59.4 1042.0,59.0 C1043.3,58.6 1043.5,58.7 1044.8,58.6 C1046.1,58.5 1046.3,58.6 1047.6,58.7 C1048.9,58.8 1049.1,58.9 1050.4,58.9 C1051.7,58.9 1051.9,58.7 1053.2,58.7 C1054.5,58.7 1054.7,59.3 1056.0,59.1 C1057.3,58.9 1057.5,57.8 1058.8,57.7 C1060.1,57.6 1060.3,58.5 1061.6,58.6 C1062.9,58.7 1063.1,57.9 1064.4,58.2 C1065.7,58.5 1065.9,59.4 1067.2,59.9 C1068.5,60.4 1068.7,60.2 1070.0,60.3 C1071.3,60.4 1071.5,60.7 1072.8,60.5 C1074.1,60.3 1074.3,59.6 1075.6,59.4 C1076.9,59.2 1077.1,59.1 1078.4,59.4 C1079.7,59.7 1079.9,60.7 1081.2,60.9 C1082.5,61.1 1082.7,60.2 1084.0,60.3 C1085.3,60.4 1085.5,61.0 1086.8,61.2 C1088.1,61.4 1088.3,61.0 1089.6,61.2 C1090.9,61.4 1091.1,62.3 1092.4,62.3 C1093.7,62.3 1093.9,60.9 1095.2,61.2 C1096.5,61.5 1096.7,62.9 1098.0,63.5 C1099.3,64.1 1099.5,64.1 1100.8,64.0 C1102.1,63.9 1102.3,63.1 1103.6,63.2 C1104.9,63.3 1105.1,64.4 1106.4,64.6 C1107.7,64.8 1107.9,64.4 1109.2,64.3 C1110.5,64.2 1110.7,64.0 1112.0,64.1 C1113.3,64.2 1113.5,64.0 1114.8,64.7 C1116.1,65.4 1116.3,66.6 1117.6,67.1 C1118.9,67.6 1119.1,66.9 1120.4,66.9 C1121.7,66.9 1121.9,67.2 1123.2,67.3 C1124.5,67.4 1124.7,67.2 1126.0,67.2 C1127.3,67.2 1127.5,67.2 1128.8,67.1 C1130.1,67.0 1130.3,66.7 1131.6,66.9 C1132.9,67.1 1133.1,67.9 1134.4,68.0 C1135.7,68.1 1135.9,67.5 1137.2,67.5 C1138.5,67.5 1138.7,68.1 1140.0,68.2 C1141.3,68.3 1141.5,67.9 1142.8,67.9 C1144.1,67.9 1144.3,68.2 1145.6,68.1 C1146.9,68.0 1147.1,67.5 1148.4,67.4 C1149.7,67.3 1149.9,67.6 1151.2,67.7 C1152.5,67.8 1152.7,68.0 1154.0,68.0 C1155.3,68.0 1155.5,68.0 1156.8,67.9 C1158.1,67.8 1158.3,67.7 1159.6,67.4 C1160.9,67.1 1161.1,66.5 1162.4,66.7 C1163.7,66.9 1163.9,68.2 1165.2,68.2 C1166.5,68.2 1166.7,67.1 1168.0,66.8 C1169.3,66.5 1169.5,66.5 1170.8,66.8 C1172.1,67.1 1172.3,68.2 1173.6,68.3 C1174.9,68.4 1175.1,67.3 1176.4,67.3 C1177.7,67.3 1177.9,68.2 1179.2,68.4 C1180.5,68.6 1180.7,68.6 1182.0,68.4 C1183.3,68.2 1183.5,67.5 1184.8,67.5 C1186.1,67.5 1186.3,68.2 1187.6,68.2 C1188.9,68.2 1189.1,67.8 1190.4,67.7 C1191.7,67.6 1191.9,67.7 1193.2,67.7 C1194.5,67.7 1194.7,67.9 1196.0,67.8 C1197.3,67.7 1197.5,67.0 1198.8,67.2 C1200.1,67.4 1200.3,68.2 1201.6,68.5 C1202.9,68.8 1203.1,68.4 1204.4,68.6 C1205.7,68.8 1205.9,69.0 1207.2,69.2 C1208.5,69.4 1208.7,69.2 1210.0,69.4 C1211.3,69.6 1211.5,70.1 1212.8,70.1 C1214.1,70.1 1214.3,69.5 1215.6,69.6 C1216.9,69.7 1217.1,70.6 1218.4,70.5 C1219.7,70.4 1219.9,69.6 1221.2,69.1 C1222.5,68.6 1222.7,69.2 1224.0,68.4 C1225.3,67.6 1225.5,66.5 1226.8,65.5 C1228.1,64.5 1228.3,65.3 1229.6,64.1 C1230.9,62.9 1231.1,61.5 1232.4,60.0 C1233.7,58.5 1233.9,58.0 1235.2,57.4 C1236.5,56.8 1236.7,57.5 1238.0,57.2 C1242.9,55.9 1244.6,51.0 1250.0,53.5 C1253.2,55.0 1253.8,58.5 1257.0,66.0 C1259.9,72.9 1260.6,75.1 1263.5,85.5 C1266.3,95.6 1267.0,98.7 1269.8,111.5 C1272.1,122.1 1272.7,126.7 1275.0,137.5 C1277.7,150.1 1278.4,150.8 1281.1,163.5 C1283.4,174.3 1284.0,177.9 1286.3,189.6 C1288.6,201.3 1289.2,201.7 1291.5,215.6 C1293.0,224.4 1293.3,225.8 1294.8,240.0 C1297.3,263.7 1297.8,276.7 1300.3,300.0 C1302.2,318.2 1302.7,316.7 1304.6,332.3 C1307.5,355.4 1308.1,363.4 1311.0,386.0 C1312.9,401.2 1313.4,408.1 1315.3,416.3 C1317.7,426.6 1318.3,427.0 1320.7,427.0 C1322.6,427.0 1323.1,426.7 1325.0,416.3 C1326.5,408.3 1326.8,406.2 1328.3,386.0 C1329.2,373.2 1329.5,365.0 1330.4,343.0 C1331.1,326.3 1331.3,323.8 1332.0,300.0 C1332.9,270.2 1333.1,237.6 1334.0,223.8 C1336.9,179.7 1337.6,188.0 1340.6,167.8 C1343.5,148.2 1344.1,145.6 1347.0,135.5 C1348.9,128.7 1349.4,129.7 1351.3,130.1 C1354.2,130.7 1354.9,130.0 1357.8,137.6 C1360.7,145.1 1361.3,147.6 1364.2,163.5 C1367.1,179.6 1367.8,182.6 1370.7,208.7 C1372.6,226.0 1373.1,237.4 1375.0,260.0 C1376.6,278.4 1376.9,288.5 1378.5,300.0 C1382.1,325.9 1382.8,324.5 1386.4,343.0 C1390.3,363.2 1391.1,365.3 1395.0,386.0 C1396.9,396.4 1397.4,404.2 1399.3,412.0 C1400.7,417.8 1401.1,418.0 1402.5,416.3 C1404.4,414.1 1404.9,405.6 1406.8,403.3 C1409.1,400.5 1409.7,401.4 1412.0,405.0 C1414.0,408.2 1414.5,430.6 1416.5,418.4 C1417.5,412.4 1417.7,386.5 1418.7,364.6 C1419.5,346.7 1419.7,345.9 1420.5,330.0 C1421.2,316.8 1421.3,314.3 1422.0,300.0 C1423.1,276.2 1423.4,258.1 1424.5,245.3 C1427.0,217.1 1427.5,218.8 1430.0,208.7 C1432.4,199.0 1432.9,203.1 1435.3,201.2 C1437.7,199.2 1438.3,207.1 1440.7,200.0 C1443.1,193.0 1443.6,180.6 1446.0,170.0 C1449.9,152.6 1450.8,154.5 1454.7,137.6 C1457.5,125.4 1458.2,115.1 1461.0,105.4 C1463.0,98.6 1463.4,101.0 1465.4,101.0 C1470.3,101.0 1471.3,103.0 1476.2,105.4 C1481.1,107.8 1482.1,111.5 1487.0,111.8 C1490.9,112.0 1491.7,108.6 1495.6,106.4 C1499.5,104.2 1500.3,100.3 1504.2,102.1 C1506.6,103.2 1507.2,110.2 1509.6,112.9 C1512.9,116.5 1513.7,114.2 1517.0,116.1 C1521.4,118.6 1522.4,113.8 1526.8,122.6 C1529.2,127.4 1529.8,137.7 1532.2,146.3 C1535.1,156.6 1535.7,159.2 1538.6,164.6 C1540.6,168.3 1541.0,169.4 1543.0,166.7 C1544.9,164.1 1545.3,159.2 1547.2,152.7 C1549.1,146.1 1549.6,139.7 1551.5,137.6 C1554.9,133.9 1555.6,143.1 1559.0,139.8 C1561.5,137.3 1562.0,132.7 1564.5,124.7 C1568.3,112.4 1569.2,106.1 1573.0,94.6 C1576.9,82.8 1577.8,82.4 1581.7,73.0 C1585.0,65.1 1585.7,59.2 1589.0,56.0 C1594.0,51.1 1595.0,55.0 1600.0,55.0 C1609.0,55.0 1611.0,55.5 1620.0,56.0 C1629.0,56.5 1631.0,54.9 1640.0,57.0 C1644.5,58.0 1645.5,63.0 1650.0,63.0 C1654.5,63.0 1655.5,57.9 1660.0,57.0 C1669.0,55.2 1671.0,55.2 1680.0,57.0 C1684.5,57.9 1685.5,63.2 1690.0,63.0 C1695.8,62.7 1697.2,54.8 1703.0,56.0 C1709.7,57.4 1711.2,60.6 1717.9,68.7 C1720.8,72.2 1721.4,73.0 1724.3,81.7 C1727.2,90.5 1727.9,100.3 1730.8,107.5 C1734.4,116.3 1735.2,109.2 1738.8,117.2 C1741.7,123.7 1742.4,134.5 1745.3,139.8 C1749.7,147.6 1750.6,139.9 1755.0,146.3 C1760.1,153.7 1761.2,165.9 1766.3,170.5 C1769.9,173.8 1770.8,167.0 1774.4,164.0 C1778.7,160.5 1779.7,155.6 1784.0,156.0 C1786.9,156.3 1787.6,164.0 1790.5,165.6 C1792.7,166.8 1793.2,168.4 1795.4,162.4 C1798.3,154.6 1798.9,145.8 1801.8,135.0 C1805.5,121.1 1806.3,118.1 1810.0,107.5 C1812.1,101.4 1813.1,101.0 1814.7,97.8" stroke="#008020"/>
<path d="M295.0,52.0 C317.0,52.2 331.3,43.4 361.0,52.6 C377.5,57.7 381.1,68.0 397.6,83.8 C417.0,102.4 421.3,109.9 440.7,129.0 C450.4,138.5 452.5,140.2 462.2,147.3 C481.6,161.5 485.9,163.5 505.3,176.4 C515.0,182.9 517.1,184.3 526.8,190.4 C536.5,196.5 538.6,198.8 548.3,203.3 C553.2,205.6 554.2,205.5 559.1,205.5 C564.0,205.5 565.0,205.2 569.9,203.3 C579.6,199.6 581.7,197.0 591.4,193.2 C599.1,190.2 600.9,189.8 608.6,188.2 C618.3,186.1 620.5,188.7 630.2,185.0 C641.8,180.5 644.4,176.1 656.0,170.0 C665.7,164.9 668.1,167.1 677.5,160.3 C680.6,158.1 681.2,151.0 684.3,149.5 C695.9,143.7 701.9,146.2 712.3,143.0 C713.7,142.6 714.1,139.9 715.5,139.8 C718.9,139.5 719.6,143.3 723.0,142.0 C739.8,135.5 746.6,129.3 766.0,120.4 C780.6,113.7 783.8,113.3 798.4,107.5 C817.8,99.8 823.6,97.1 841.5,90.3 C846.3,88.5 847.4,88.0 852.2,87.0 C870.1,83.4 875.9,82.8 895.3,79.5 C909.8,77.0 916.0,76.0 927.6,74.1 C928.7,73.9 928.9,74.0 930.0,73.7 C931.2,73.4 931.4,73.5 932.6,72.7 C933.8,71.9 934.0,70.9 935.2,70.3 C936.4,69.7 936.6,69.8 937.8,69.9 C939.0,70.0 939.2,70.5 940.4,70.7 C941.6,70.9 941.8,70.9 943.0,70.9 C944.2,70.9 944.4,70.5 945.6,70.8 C946.8,71.1 947.0,72.0 948.2,72.2 C949.4,72.4 949.6,71.8 950.8,71.5 C952.0,71.2 952.2,70.9 953.4,71.0 C954.6,71.1 954.8,71.6 956.0,72.1 C957.2,72.6 957.4,73.2 958.6,73.4 C959.8,73.6 960.0,73.2 961.2,73.2 C962.4,73.2 962.6,73.4 963.8,73.5 C965.0,73.6 965.2,73.9 966.4,73.7 C967.6,73.5 967.8,72.7 969.0,72.5 C970.2,72.3 970.4,72.7 971.6,72.6 C972.8,72.5 973.0,72.1 974.2,72.1 C975.4,72.1 975.6,72.5 976.8,72.7 C978.0,72.9 978.2,72.9 979.4,73.0 C980.6,73.1 980.8,73.1 982.0,73.3 C983.2,73.5 983.4,74.2 984.6,74.0 C985.8,73.8 986.0,72.6 987.2,72.2 C988.4,71.8 988.6,72.0 989.8,72.3 C991.0,72.6 991.2,73.6 992.4,73.7 C993.6,73.8 993.8,72.9 995.0,72.7 C996.2,72.5 996.4,72.9 997.6,72.7 C998.8,72.5 999.0,71.5 1000.2,71.7 C1001.4,71.9 1001.6,73.5 1002.8,73.7 C1004.0,73.9 1004.2,72.5 1005.4,72.5 C1006.6,72.5 1006.8,73.6 1008.0,73.5 C1009.2,73.4 1009.4,71.9 1010.6,71.9 C1011.8,71.9 1012.0,73.7 1013.2,73.7 C1014.4,73.7 1014.6,72.3 1015.8,72.1 C1017.0,71.9 1017.2,73.3 1018.4,73.0 C1019.6,72.7 1019.8,70.9 1021.0,70.9 C1022.2,70.9 1022.4,73.2 1023.6,72.9 C1024.8,72.6 1025.0,70.5 1026.2,69.4 C1027.4,68.3 1027.6,68.9 1028.8,68.0 C1030.0,67.1 1030.2,66.2 1031.4,65.3 C1032.6,64.4 1032.8,65.5 1034.0,64.2 C1034.9,63.2 1035.1,62.0 1036.0,60.1 C1037.0,58.0 1037.3,56.8 1038.3,55.3 C1039.3,53.8 1039.6,53.6 1040.6,53.3 C1041.6,53.0 1041.9,52.6 1042.9,54.0 C1043.9,55.4 1044.2,58.1 1045.2,59.5 C1046.2,60.9 1046.5,59.6 1047.5,60.1 C1048.5,60.6 1048.8,62.2 1049.8,61.5 C1050.8,60.8 1051.1,57.4 1052.1,57.0 C1053.1,56.5 1053.4,58.7 1054.4,59.5 C1055.4,60.3 1055.7,61.1 1056.7,60.4 C1057.7,59.7 1058.0,56.6 1059.0,56.3 C1060.0,56.0 1060.3,57.4 1061.3,58.9 C1062.3,60.4 1062.6,61.9 1063.6,62.8 C1064.6,63.7 1064.9,64.0 1065.9,62.9 C1066.9,61.8 1067.2,58.7 1068.2,57.9 C1069.2,57.1 1069.5,58.3 1070.5,59.5 C1071.5,60.7 1071.8,62.0 1072.8,63.1 C1073.8,64.2 1074.1,64.8 1075.1,64.4 C1076.1,64.0 1076.4,62.1 1077.4,61.3 C1078.4,60.5 1078.7,61.7 1079.7,60.7 C1080.7,59.7 1081.0,56.2 1082.0,56.9 C1083.0,57.6 1083.3,64.2 1084.3,64.0 C1085.3,63.8 1085.6,56.9 1086.6,56.1 C1087.6,55.3 1087.9,59.1 1088.9,60.3 C1089.9,61.5 1090.2,62.7 1091.2,61.5 C1092.2,60.3 1092.5,56.0 1093.5,55.1 C1094.5,54.2 1094.8,57.7 1095.8,57.6 C1096.8,57.5 1097.1,54.5 1098.1,54.8 C1099.1,55.1 1099.4,58.4 1100.4,59.1 C1101.4,59.8 1101.7,57.8 1102.7,58.1 C1103.7,58.4 1104.0,60.4 1105.0,60.6 C1106.0,60.8 1106.3,60.3 1107.3,58.8 C1108.3,57.3 1108.6,54.2 1109.6,53.9 C1110.6,53.6 1110.9,56.2 1111.9,57.4 C1112.9,58.6 1113.2,59.8 1114.2,59.2 C1115.2,58.6 1115.5,55.5 1116.5,54.7 C1117.5,53.9 1117.8,55.1 1118.8,55.8 C1119.8,56.5 1120.1,57.0 1121.1,57.9 C1122.1,58.8 1122.4,60.3 1123.4,59.8 C1124.1,59.5 1124.3,56.9 1125.0,56.2 C1126.2,55.1 1126.4,55.6 1127.6,55.7 C1128.8,55.8 1129.0,56.4 1130.2,56.5 C1131.4,56.6 1131.6,56.0 1132.8,56.0 C1134.0,56.0 1134.2,56.5 1135.4,56.4 C1136.6,56.3 1136.8,55.3 1138.0,55.6 C1139.2,55.9 1139.4,57.9 1140.6,57.9 C1141.8,57.9 1142.0,55.6 1143.2,55.6 C1144.4,55.6 1144.6,57.4 1145.8,57.8 C1147.0,58.2 1147.2,57.8 1148.4,57.3 C1149.6,56.8 1149.8,56.2 1151.0,55.6 C1152.2,55.0 1152.4,54.4 1153.6,54.5 C1154.8,54.6 1155.0,55.5 1156.2,56.2 C1157.4,56.9 1157.6,57.3 1158.8,57.4 C1160.0,57.5 1160.2,56.7 1161.4,56.5 C1162.6,56.3 1162.8,56.6 1164.0,56.4 C1165.2,56.2 1165.4,56.1 1166.6,55.8 C1167.8,55.5 1168.0,54.8 1169.2,54.9 C1170.4,55.0 1170.6,56.1 1171.8,56.2 C1173.0,56.3 1173.2,55.4 1174.4,55.3 C1175.6,55.2 1175.8,55.3 1177.0,55.8 C1178.2,56.3 1178.4,57.6 1179.6,57.4 C1180.8,57.2 1181.0,55.5 1182.2,54.8 C1183.4,54.1 1183.6,54.4 1184.8,54.4 C1186.0,54.4 1186.2,53.8 1187.4,54.6 C1188.6,55.4 1188.8,57.2 1190.0,57.8 C1191.2,58.4 1191.4,57.2 1192.6,57.2 C1193.8,57.2 1194.0,58.0 1195.2,57.7 C1196.4,57.4 1196.6,56.3 1197.8,55.8 C1199.0,55.3 1199.2,55.7 1200.4,55.4 C1201.6,55.1 1201.8,54.1 1203.0,54.3 C1204.2,54.5 1204.4,55.8 1205.6,56.2 C1206.8,56.6 1207.0,56.2 1208.2,56.0 C1209.4,55.8 1209.6,54.8 1210.8,55.1 C1212.0,55.4 1212.2,57.5 1213.4,57.3 C1214.6,57.1 1214.8,54.3 1216.0,54.3 C1217.2,54.3 1217.4,57.1 1218.6,57.4 C1219.8,57.7 1220.0,55.8 1221.2,55.8 C1222.4,55.8 1222.6,57.7 1223.8,57.4 C1225.0,57.1 1225.2,54.9 1226.4,54.6 C1227.6,54.3 1227.8,56.1 1229.0,56.0 C1230.2,55.9 1230.4,54.4 1231.6,54.1 C1232.8,53.8 1233.0,54.9 1234.2,54.8 C1235.4,54.7 1235.6,53.6 1236.8,53.6 C1238.0,53.6 1238.2,55.1 1239.4,54.9 C1241.9,54.6 1242.5,51.4 1245.0,52.5 C1247.7,53.7 1248.3,53.8 1251.0,60.0 C1253.5,65.7 1254.0,68.4 1256.5,79.0 C1258.8,88.6 1259.2,93.3 1261.5,105.0 C1263.8,116.7 1264.2,118.0 1266.5,131.0 C1268.3,141.4 1268.7,145.3 1270.5,157.0 C1272.3,168.7 1272.7,172.0 1274.5,183.0 C1276.5,195.4 1277.0,196.2 1279.0,209.0 C1281.0,221.8 1281.5,220.6 1283.5,240.0 C1285.8,261.6 1286.2,277.3 1288.5,300.0 C1292.8,343.0 1293.7,349.7 1298.0,386.0 C1301.2,412.7 1301.8,406.5 1305.0,440.0 C1306.8,458.7 1307.1,479.3 1308.9,502.0 C1310.7,524.7 1311.0,531.1 1312.8,541.0 C1316.3,560.8 1317.1,565.7 1320.6,568.0 C1322.7,569.3 1323.1,562.4 1325.2,549.0 C1326.5,540.8 1326.7,536.3 1328.0,520.0 C1328.9,508.4 1329.1,501.4 1330.0,487.0 C1331.3,465.4 1331.7,473.1 1333.0,440.0 C1334.3,406.9 1334.7,373.8 1336.0,340.0 C1338.2,283.8 1338.8,273.2 1341.0,240.0 C1343.5,203.5 1344.0,202.6 1346.5,185.0 C1348.7,169.6 1349.1,166.7 1351.3,166.7 C1353.9,166.7 1354.4,168.9 1357.0,185.0 C1359.7,201.9 1360.3,211.9 1363.0,240.0 C1365.7,268.1 1366.3,280.9 1369.0,310.0 C1372.2,343.9 1372.8,353.6 1376.0,380.0 C1379.8,412.1 1380.7,416.8 1384.5,440.0 C1388.0,461.3 1388.8,459.6 1392.3,479.0 C1395.1,494.7 1395.8,502.6 1398.6,518.0 C1400.0,525.6 1400.3,529.1 1401.7,530.0 C1407.9,534.0 1411.6,534.0 1417.3,530.0 C1418.0,529.5 1418.1,526.5 1418.8,518.0 C1420.2,499.9 1420.6,494.9 1422.0,471.0 C1422.7,459.8 1422.8,450.8 1423.5,440.0 C1425.2,412.6 1425.6,411.0 1427.3,386.0 C1429.2,357.7 1429.7,345.6 1431.6,321.5 C1434.0,291.2 1434.6,284.3 1437.0,265.0 C1440.6,236.4 1441.4,232.3 1445.0,215.0 C1450.3,189.5 1451.5,185.6 1456.8,170.0 C1460.7,158.6 1461.5,160.5 1465.4,154.9 C1470.3,147.9 1471.3,145.6 1476.2,142.0 C1481.1,138.4 1482.1,141.4 1487.0,138.7 C1490.9,136.5 1491.7,133.4 1495.6,131.2 C1499.5,129.0 1500.3,127.0 1504.2,129.0 C1508.1,131.0 1508.9,133.7 1512.8,140.0 C1516.7,146.3 1517.5,146.9 1521.4,157.0 C1525.3,167.1 1526.1,169.0 1530.0,185.0 C1533.9,201.0 1534.7,210.0 1538.6,228.0 C1540.6,237.2 1541.0,245.3 1543.0,245.3 C1544.9,245.3 1545.3,234.2 1547.2,228.0 C1550.1,218.4 1550.8,216.9 1553.7,210.0 C1556.5,203.4 1557.2,206.7 1560.0,198.0 C1564.0,185.8 1564.8,182.1 1568.8,163.5 C1572.7,145.3 1573.5,135.0 1577.4,116.1 C1581.3,97.2 1582.1,91.1 1586.0,79.5 C1589.9,67.9 1590.7,68.5 1594.6,64.4 C1600.4,58.2 1601.7,57.8 1607.5,56.5 C1617.2,54.3 1619.7,53.3 1629.0,56.5 C1631.9,57.5 1632.6,66.0 1635.5,66.0 C1639.1,66.0 1640.0,58.3 1643.6,56.5 C1648.0,54.3 1648.9,55.3 1653.3,57.0 C1657.7,58.7 1658.6,63.8 1663.0,64.0 C1666.6,64.2 1667.4,59.2 1671.0,58.0 C1675.4,56.5 1676.3,58.5 1680.7,58.0 C1687.2,57.2 1688.7,55.6 1695.2,55.0 C1698.1,54.7 1698.8,52.0 1701.7,56.0 C1703.9,59.0 1704.4,67.0 1706.6,70.4 C1710.9,77.1 1711.9,71.7 1716.2,78.4 C1719.8,84.0 1720.7,83.7 1724.3,97.8 C1727.2,109.1 1727.9,116.8 1730.8,135.0 C1733.0,148.4 1733.4,163.4 1735.6,168.0 C1739.2,175.7 1740.1,158.9 1743.7,162.4 C1747.3,165.9 1748.2,174.6 1751.8,183.4 C1755.4,192.1 1756.2,195.6 1759.8,201.2 C1762.7,205.8 1763.4,207.0 1766.3,206.0 C1769.9,204.8 1770.8,197.7 1774.4,196.3 C1778.0,194.9 1778.8,196.0 1782.4,199.6 C1786.0,203.3 1786.9,210.5 1790.5,212.5 C1793.4,214.1 1794.1,215.1 1797.0,207.6 C1800.6,198.4 1801.4,194.3 1805.0,175.3 C1809.4,152.2 1811.5,134.4 1814.7,114.0" stroke="#850085"/>
<path d="M295.0,52.6 C309.0,52.6 318.1,46.3 337.0,52.6 C354.6,58.4 358.4,63.8 376.0,79.5 C395.4,96.8 399.6,106.5 419.0,125.8 C428.8,135.5 430.9,136.6 440.7,144.1 C450.4,151.6 452.5,152.7 462.2,159.2 C481.6,172.1 485.9,174.3 505.3,187.2 C515.0,193.6 517.1,196.2 526.8,202.2 C536.5,208.2 538.6,209.5 548.3,214.0 C553.2,216.3 554.2,217.1 559.1,217.3 C564.0,217.5 565.0,217.1 569.9,215.1 C579.6,211.2 581.7,208.6 591.4,204.3 C599.1,200.9 600.9,199.7 608.6,198.0 C618.3,195.9 620.5,199.3 630.2,195.8 C641.8,191.6 644.4,187.3 656.0,180.7 C665.7,175.2 668.1,175.4 677.5,168.9 C680.6,166.8 681.2,162.6 684.3,161.3 C695.9,156.3 699.7,157.3 712.3,153.8 C717.1,152.5 718.2,153.0 723.0,150.6 C740.9,141.6 746.6,136.3 766.0,126.9 C780.6,119.8 783.8,119.8 798.4,114.0 C817.8,106.2 823.6,103.5 841.5,96.7 C846.3,94.9 847.4,94.6 852.2,93.5 C870.1,89.6 875.9,87.7 895.3,84.9 C904.2,83.6 907.6,83.3 915.0,84.3 C916.1,84.4 916.3,88.0 917.4,87.8 C918.5,87.6 918.7,84.0 919.8,83.6 C920.9,83.1 921.1,85.8 922.2,85.8 C923.3,85.8 923.5,84.6 924.6,83.8 C925.7,83.0 925.9,82.5 927.0,82.2 C928.1,81.9 928.3,83.2 929.4,82.6 C930.5,82.0 930.7,80.3 931.8,79.6 C932.9,78.9 933.1,79.4 934.2,79.3 C935.3,79.2 935.5,79.8 936.6,79.1 C937.7,78.4 937.9,76.4 939.0,76.3 C940.1,76.2 940.3,78.9 941.4,78.7 C942.5,78.5 942.7,76.0 943.8,75.6 C944.9,75.2 945.1,76.4 946.2,77.0 C947.3,77.6 947.5,77.5 948.6,78.3 C949.7,79.1 949.9,79.7 951.0,80.7 C952.1,81.7 952.3,83.0 953.4,82.9 C954.5,82.8 954.7,81.2 955.8,80.4 C956.9,79.6 957.1,78.9 958.2,79.3 C959.3,79.7 959.5,81.1 960.6,82.3 C961.7,83.5 961.9,84.5 963.0,84.5 C964.1,84.5 964.3,82.4 965.4,82.4 C966.5,82.4 966.7,84.1 967.8,84.3 C968.9,84.5 969.1,83.7 970.2,83.2 C971.3,82.8 971.5,82.6 972.6,82.3 C973.7,82.0 973.9,81.5 975.0,81.9 C976.1,82.4 976.3,84.3 977.4,84.3 C978.5,84.3 978.7,81.7 979.8,81.8 C980.9,81.9 981.1,85.0 982.2,84.7 C983.3,84.4 983.5,81.0 984.6,80.6 C985.7,80.1 985.9,82.2 987.0,82.7 C988.1,83.2 988.3,82.7 989.4,82.7 C990.5,82.7 990.7,83.3 991.8,82.7 C992.9,82.1 993.1,80.9 994.2,80.2 C995.3,79.5 995.5,80.1 996.6,79.8 C997.7,79.5 997.9,79.2 999.0,79.0 C1000.1,78.8 1000.3,78.6 1001.4,78.9 C1002.5,79.2 1002.7,79.3 1003.8,80.2 C1004.9,81.1 1005.1,82.5 1006.2,82.7 C1007.3,82.9 1007.5,81.0 1008.6,81.0 C1009.7,81.0 1009.9,82.9 1011.0,82.9 C1012.1,82.9 1012.3,82.0 1013.4,81.2 C1014.5,80.4 1014.7,80.2 1015.8,79.5 C1016.9,78.8 1017.1,77.8 1018.2,78.3 C1019.3,78.8 1019.5,81.0 1020.6,81.9 C1021.7,82.8 1021.9,82.7 1023.0,82.4 C1024.1,82.1 1024.3,81.1 1025.4,80.4 C1026.5,79.7 1026.7,80.0 1027.8,79.4 C1028.9,78.8 1029.1,76.9 1030.2,77.8 C1031.3,78.7 1031.5,82.2 1032.6,83.2 C1033.7,84.2 1033.9,82.3 1035.0,82.4 C1035.5,82.4 1035.5,84.2 1036.0,83.4 C1037.1,81.6 1037.3,79.8 1038.4,76.7 C1039.5,73.6 1039.7,70.8 1040.8,69.6 C1041.9,68.4 1042.1,71.8 1043.2,71.2 C1044.3,70.6 1044.5,68.5 1045.6,67.0 C1046.7,65.5 1046.9,65.3 1048.0,64.7 C1049.1,64.1 1049.3,64.3 1050.4,64.4 C1051.5,64.5 1051.7,64.3 1052.8,65.1 C1053.9,65.9 1054.1,66.4 1055.2,68.0 C1056.3,69.6 1056.5,71.6 1057.6,72.2 C1058.7,72.8 1058.9,70.6 1060.0,70.7 C1061.1,70.8 1061.3,72.3 1062.4,72.6 C1063.5,72.9 1063.7,71.8 1064.8,72.1 C1065.9,72.4 1066.1,73.7 1067.2,74.1 C1068.3,74.5 1068.5,73.5 1069.6,73.9 C1070.7,74.3 1070.9,75.2 1072.0,75.9 C1073.1,76.6 1073.3,77.3 1074.4,77.0 C1075.5,76.7 1075.7,74.7 1076.8,74.5 C1077.9,74.3 1078.1,75.5 1079.2,76.0 C1080.3,76.5 1080.5,75.8 1081.6,76.7 C1082.7,77.6 1082.9,80.2 1084.0,80.0 C1085.1,79.8 1085.3,76.8 1086.4,75.9 C1087.5,75.0 1087.7,76.4 1088.8,76.1 C1089.9,75.8 1090.1,74.2 1091.2,74.7 C1092.3,75.2 1092.5,78.2 1093.6,78.2 C1094.7,78.2 1094.9,75.9 1096.0,74.8 C1097.1,73.7 1097.3,74.1 1098.4,73.1 C1099.5,72.1 1099.7,71.4 1100.8,70.5 C1101.9,69.6 1102.1,70.6 1103.2,69.3 C1104.3,68.0 1104.5,65.4 1105.6,64.9 C1106.7,64.4 1106.9,67.4 1108.0,67.2 C1109.1,67.0 1109.3,64.7 1110.4,64.2 C1111.5,63.7 1111.7,64.0 1112.8,64.9 C1113.9,65.8 1114.1,66.8 1115.2,68.4 C1116.3,70.0 1116.5,70.3 1117.6,71.8 C1118.7,73.3 1118.9,74.4 1120.0,75.1 C1121.1,75.8 1121.3,76.7 1122.4,74.7 C1123.5,72.7 1123.7,68.3 1124.8,66.0 C1126.0,63.5 1126.2,64.5 1127.4,63.9 C1128.5,63.4 1128.7,63.1 1129.8,63.5 C1130.9,63.9 1131.1,65.8 1132.2,65.6 C1133.3,65.4 1133.5,63.2 1134.6,62.4 C1135.7,61.6 1135.9,61.4 1137.0,62.1 C1138.1,62.8 1138.3,64.7 1139.4,65.5 C1140.5,66.3 1140.7,66.2 1141.8,65.7 C1142.9,65.2 1143.1,63.4 1144.2,63.3 C1145.3,63.2 1145.5,65.4 1146.6,65.4 C1147.7,65.4 1147.9,64.3 1149.0,63.5 C1150.1,62.7 1150.3,62.1 1151.4,62.0 C1152.5,61.9 1152.7,63.2 1153.8,63.2 C1154.9,63.2 1155.1,61.6 1156.2,62.1 C1157.3,62.6 1157.5,65.3 1158.6,65.3 C1159.7,65.3 1159.9,62.3 1161.0,62.1 C1162.1,61.9 1162.3,63.8 1163.4,64.3 C1164.5,64.8 1164.7,64.3 1165.8,64.3 C1166.9,64.3 1167.1,64.6 1168.2,64.3 C1169.3,64.0 1169.5,63.1 1170.6,63.1 C1171.7,63.1 1171.9,64.5 1173.0,64.4 C1174.1,64.3 1174.3,63.0 1175.4,62.7 C1176.5,62.4 1176.7,63.2 1177.8,63.2 C1178.9,63.2 1179.1,62.7 1180.2,62.9 C1181.3,63.1 1181.5,63.6 1182.6,64.3 C1183.7,65.0 1183.9,66.0 1185.0,65.9 C1186.1,65.8 1186.3,64.5 1187.4,63.8 C1188.5,63.1 1188.7,62.6 1189.8,62.8 C1190.9,63.0 1191.1,65.0 1192.2,64.8 C1193.3,64.6 1193.5,62.1 1194.6,62.0 C1195.7,61.9 1195.9,63.6 1197.0,64.3 C1198.1,65.0 1198.3,64.7 1199.4,64.9 C1200.5,65.1 1200.7,65.0 1201.8,65.1 C1202.9,65.2 1203.1,65.6 1204.2,65.3 C1205.3,65.0 1205.5,63.8 1206.6,63.6 C1207.7,63.4 1207.9,64.3 1209.0,64.6 C1210.1,64.9 1210.3,65.1 1211.4,65.0 C1212.5,64.9 1212.7,64.7 1213.8,64.2 C1214.9,63.7 1215.1,62.9 1216.2,62.9 C1217.3,62.9 1217.5,63.5 1218.6,64.1 C1219.7,64.7 1219.9,65.6 1221.0,65.7 C1222.1,65.8 1222.3,65.3 1223.4,64.4 C1224.5,63.5 1224.7,62.7 1225.8,61.7 C1226.9,60.7 1227.1,59.9 1228.2,59.8 C1229.3,59.7 1229.5,61.6 1230.6,61.1 C1231.2,60.8 1231.4,58.6 1232.0,58.0 C1234.5,55.5 1235.3,54.2 1238.0,53.5 C1242.8,52.2 1243.8,45.8 1248.6,53.5 C1250.9,57.3 1251.5,67.4 1253.8,79.0 C1256.1,90.6 1256.7,93.3 1259.0,105.0 C1261.3,116.7 1261.9,118.6 1264.2,131.0 C1266.3,142.0 1266.7,145.2 1268.8,157.0 C1270.8,168.6 1271.3,172.1 1273.3,183.0 C1275.6,195.5 1276.2,196.2 1278.5,209.0 C1280.8,221.8 1281.4,221.5 1283.7,240.0 C1286.5,262.4 1287.2,275.1 1290.0,300.0 C1294.6,340.8 1295.7,346.7 1300.3,386.0 C1303.1,409.7 1303.7,417.6 1306.5,440.0 C1308.5,456.3 1309.0,458.9 1311.0,472.0 C1315.0,497.6 1315.8,521.8 1319.8,526.0 C1322.2,528.6 1322.8,511.3 1325.2,487.0 C1326.6,472.6 1327.0,461.6 1328.4,440.0 C1329.6,422.5 1329.8,423.0 1331.0,400.0 C1332.6,369.0 1332.9,345.4 1334.5,320.0 C1337.2,275.8 1337.9,272.1 1340.6,245.3 C1343.5,217.2 1344.1,213.6 1347.0,198.0 C1349.1,186.5 1349.6,184.2 1351.7,185.0 C1354.4,186.1 1355.1,189.0 1357.8,202.2 C1360.7,216.1 1361.3,220.6 1364.2,245.3 C1366.5,264.6 1367.0,278.3 1369.2,300.0 C1370.9,316.5 1371.3,317.2 1373.0,330.0 C1375.2,346.2 1375.6,346.3 1377.8,364.6 C1381.5,395.8 1382.3,414.9 1386.0,440.0 C1389.2,461.4 1389.8,458.8 1393.0,468.0 C1395.8,476.3 1396.5,481.6 1399.3,479.0 C1402.5,476.0 1403.2,467.8 1406.4,455.6 C1407.8,450.3 1408.1,451.5 1409.5,440.0 C1410.7,429.9 1411.0,416.9 1412.2,407.6 C1416.0,378.9 1416.9,378.0 1420.8,353.8 C1423.6,336.3 1424.2,331.7 1427.0,315.0 C1430.7,292.6 1431.6,286.8 1435.3,266.8 C1439.2,245.8 1440.1,236.8 1444.0,223.8 C1448.8,207.8 1449.9,212.9 1454.7,202.2 C1459.5,191.5 1460.6,185.6 1465.4,176.4 C1470.3,167.2 1471.3,165.4 1476.2,161.3 C1481.1,157.2 1482.1,162.4 1487.0,158.1 C1490.9,154.7 1491.7,149.2 1495.6,144.1 C1499.5,139.0 1500.3,135.5 1504.2,135.5 C1508.1,135.5 1508.9,138.8 1512.8,144.1 C1516.7,149.4 1517.5,150.0 1521.4,159.2 C1525.3,168.4 1526.1,170.5 1530.0,185.0 C1533.9,199.5 1534.7,208.4 1538.6,223.8 C1540.6,231.7 1541.0,236.7 1543.0,236.7 C1544.9,236.7 1545.3,228.7 1547.2,223.8 C1550.1,216.1 1550.8,214.6 1553.7,208.7 C1556.5,203.0 1557.2,206.5 1560.0,198.0 C1564.0,186.1 1564.8,182.1 1568.8,163.5 C1572.7,145.3 1573.5,135.0 1577.4,116.1 C1581.3,97.2 1582.1,91.1 1586.0,79.5 C1589.9,67.9 1590.7,68.7 1594.6,64.4 C1600.4,58.0 1601.7,57.3 1607.5,55.8 C1617.2,53.4 1619.7,51.5 1629.0,55.8 C1631.9,57.1 1632.6,68.7 1635.5,68.7 C1639.1,68.7 1640.0,57.8 1643.6,55.8 C1648.0,53.4 1648.9,51.4 1653.3,59.0 C1656.9,65.2 1657.7,85.2 1661.3,86.5 C1665.7,88.1 1666.6,71.3 1671.0,65.5 C1675.4,59.7 1676.3,62.7 1680.7,60.7 C1687.2,57.7 1688.7,55.7 1695.2,54.2 C1698.1,53.5 1698.8,51.6 1701.7,55.8 C1703.9,58.9 1704.4,67.0 1706.6,70.4 C1710.9,77.1 1711.9,71.7 1716.2,78.4 C1719.8,84.0 1720.7,83.7 1724.3,97.8 C1727.2,109.1 1727.9,116.2 1730.8,135.0 C1733.0,148.9 1733.4,167.5 1735.6,170.5 C1739.2,175.5 1740.1,152.3 1743.7,152.7 C1747.3,153.1 1748.2,164.1 1751.8,172.1 C1755.4,180.0 1756.2,185.4 1759.8,188.2 C1762.7,190.5 1763.4,186.0 1766.3,183.4 C1769.9,180.2 1770.8,176.4 1774.4,175.3 C1778.0,174.2 1778.8,174.9 1782.4,178.5 C1786.0,182.2 1786.9,190.4 1790.5,191.5 C1794.1,192.6 1795.0,191.5 1798.6,183.4 C1801.5,177.0 1802.1,170.2 1805.0,159.2 C1809.4,142.6 1811.5,134.4 1814.7,122.0" stroke="#ff8210"/>
</g>
<rect x="445" y="107.5" width="207" height="489" fill="rgba(0,255,70,0.155)"/>
<rect x="1276.5" y="97.5" width="76" height="1175.5" fill="rgba(0,0,255,0.115)"/>
<rect x="1352.5" y="97.5" width="113.5" height="1175.5" fill="rgba(255,120,0,0.115)"/>
<rect x="1498.5" y="95" width="98" height="695" fill="rgba(255,255,0,0.19)"/>
<rect x="1645.5" y="53" width="45.5" height="491" fill="rgba(110,110,110,0.105)"/>
<rect x="1715.5" y="53" width="97.5" height="623.5" fill="rgba(0,110,40,0.125)"/>
<path d="M558.0,162.5 L558.0,480.8 M551.0,451.8 L558.0,480.8 L565.0,451.8" fill="none" stroke="#2a2a2a" stroke-width="1.5" stroke-linejoin="miter"/>
<path d="M1321.7,455.0 L1321.7,1058.4 M1314.7,1029.4 L1321.7,1058.4 L1328.7,1029.4" fill="none" stroke="#2a2a2a" stroke-width="1.5" stroke-linejoin="miter"/>
<path d="M1402.0,438.0 L1402.0,1075.0 M1395.0,1046.0 L1402.0,1075.0 L1409.0,1046.0" fill="none" stroke="#2a2a2a" stroke-width="1.5" stroke-linejoin="miter"/>
<path d="M1542.0,176.5 L1542.0,495.9 M1535.0,466.9 L1542.0,495.9 L1549.0,466.9" fill="none" stroke="#2a2a2a" stroke-width="1.5" stroke-linejoin="miter"/>
<path d="M1665.0,183.5 L1665.0,285.5 M1658.0,256.5 L1665.0,285.5 L1672.0,256.5" fill="none" stroke="#2a2a2a" stroke-width="1.5" stroke-linejoin="miter"/>
<path d="M1742.0,470.0 L1742.0,571.0 M1735.0,542.0 L1742.0,571.0 L1749.0,542.0" fill="none" stroke="#2a2a2a" stroke-width="1.5" stroke-linejoin="miter"/>
<text transform="translate(536.0,580.1) rotate(-90)" font-size="43.5" dy="9.0 -5.5 -5.5 11.0" textLength="87.4" lengthAdjust="spacingAndGlyphs" fill="#141414" stroke="#d8ffe2" stroke-width="0.8">3187</text>
<text transform="translate(609.2,578.0) rotate(-90)" font-size="50.5" textLength="85.3" lengthAdjust="spacingAndGlyphs" fill="#141414" stroke="#d8ffe2" stroke-width="0.9">O-H</text>
<text transform="translate(1333.6,1258.8) rotate(-90)" font-size="53" textLength="86.6" lengthAdjust="spacingAndGlyphs" fill="#141414" stroke="#e2e2ff" stroke-width="0.9">C=O</text>
<text transform="translate(1325.0,1157.3) rotate(-90)" font-size="41.3" dy="3.3 5.2 0.0 0.0" textLength="80.9" lengthAdjust="spacingAndGlyphs" fill="#141414" stroke="#e2e2ff" stroke-width="0.8">1555</text>
<text transform="translate(1428.0,1253.1) rotate(-90)" font-size="52" textLength="81.6" lengthAdjust="spacingAndGlyphs" fill="#141414" stroke="#fff0e2" stroke-width="0.9">C-H</text>
<text transform="translate(1415.0,1164.5) rotate(-90)" font-size="43.5" dy="3.5 5.5 -11.0 5.5" textLength="84.6" lengthAdjust="spacingAndGlyphs" fill="#141414" stroke="#fff0e2" stroke-width="0.8">1380</text>
<text transform="translate(1571.9,760.8) rotate(-90)" font-size="54.5" textLength="126.7" lengthAdjust="spacingAndGlyphs" fill="#141414" stroke="#ffffcf" stroke-width="0.9">C-O-C</text>
<text transform="translate(1560.5,603.4) rotate(-90)" font-size="43.5" dy="3.5 0.0 -5.5 11.0" textLength="85.8" lengthAdjust="spacingAndGlyphs" fill="#141414" stroke="#ffffcf" stroke-width="0.8">1085</text>
<text transform="translate(1690.5,529.1) rotate(-90)" font-size="54" textLength="132.3" lengthAdjust="spacingAndGlyphs" fill="#141414" stroke="#f0f0f0" stroke-width="0.9">C=C-C</text>
<text transform="translate(1680.1,367.1) rotate(-90)" font-size="43.5" dy="-2.0 5.5 0.0" textLength="69.5" lengthAdjust="spacingAndGlyphs" fill="#141414" stroke="#f0f0f0" stroke-width="0.8">820</text>
<text transform="translate(1748.4,659.8) rotate(-90)" font-size="40.5" dy="-1.9 10.2 -10.2" textLength="63.0" lengthAdjust="spacingAndGlyphs" fill="#141414" stroke="#dfede4" stroke-width="0.8">656</text>
<line x1="479" y1="774.6" x2="653" y2="774.6" stroke="#000000" stroke-width="5.5"/>
<text x="671" y="800.9" font-size="77" fill="#000">(a)</text>
<line x1="479" y1="866.8" x2="653" y2="866.8" stroke="#0000d2" stroke-width="5.5"/>
<text x="671" y="893.1" font-size="77" fill="#000">(b)</text>
<line x1="479" y1="959.0" x2="653" y2="959.0" stroke="#008020" stroke-width="5.5"/>
<text x="671" y="985.3" font-size="77" fill="#000">(c)</text>
<line x1="479" y1="1051.2" x2="653" y2="1051.2" stroke="#850085" stroke-width="5.5"/>
<text x="671" y="1077.5" font-size="77" fill="#000">(d)</text>
<line x1="479" y1="1143.4" x2="653" y2="1143.4" stroke="#ff8210" stroke-width="5.5"/>
<text x="671" y="1169.7" font-size="77" fill="#000">(e)</text>
<text transform="translate(268.3,77.3) scale(1,1.05)" font-size="80" text-anchor="end" fill="#000">100</text>
<text transform="translate(268.3,427.2) scale(1,1.05)" font-size="80" text-anchor="end" fill="#000">80</text>
<text transform="translate(268.3,777.0) scale(1,1.05)" font-size="80" text-anchor="end" fill="#000">60</text>
<text transform="translate(268.3,1126.9) scale(1,1.05)" font-size="80" text-anchor="end" fill="#000">40</text>
<text transform="translate(411.1,1366.3) scale(1,1.05)" font-size="80" text-anchor="middle" fill="#000">3500</text>
<text transform="translate(738.5,1366.3) scale(1,1.05)" font-size="80" text-anchor="middle" fill="#000">2800</text>
<text transform="translate(1065.9,1366.3) scale(1,1.05)" font-size="80" text-anchor="middle" fill="#000">2100</text>
<text transform="translate(1393.2,1366.3) scale(1,1.05)" font-size="80" text-anchor="middle" fill="#000">1400</text>
<text transform="translate(1720.6,1366.3) scale(1,1.05)" font-size="80" text-anchor="middle" fill="#000">700</text>
<text transform="translate(597,1476) scale(1,1.04)" font-size="104.5" fill="#000">Wavenumber (cm<tspan font-size="70" dy="-43">-1</tspan><tspan dy="43" dx="3">)</tspan></text>
<text transform="translate(122.4,620.4) rotate(-90) scale(1,1.045)" font-size="105" text-anchor="middle" fill="#000">Transmittance (%)</text>
</g>
</svg>
</body></html>
